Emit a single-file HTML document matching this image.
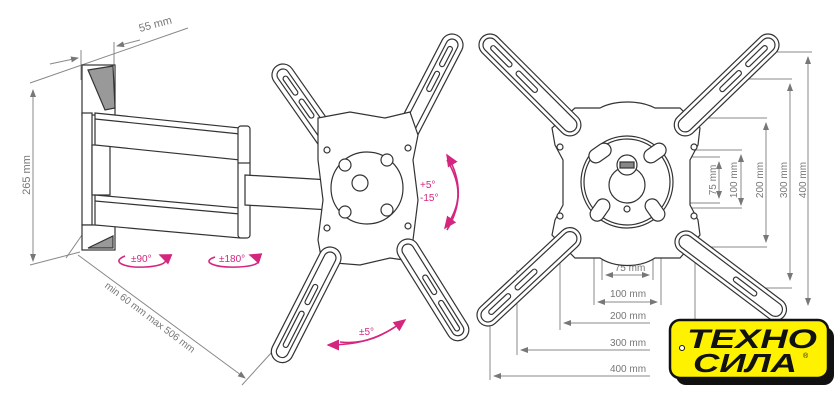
<!DOCTYPE html>
<html><head><meta charset="utf-8"><style>
html,body{margin:0;padding:0;background:#fff;}
svg{display:block;}
text{font-family:"Liberation Sans",sans-serif;}
</style></head><body>
<svg width="840" height="409" viewBox="0 0 840 409" xmlns="http://www.w3.org/2000/svg">
<defs>
<marker id="ag" markerWidth="8" markerHeight="8" refX="7" refY="4" orient="auto"><path d="M0,1 L8,4 L0,7 z" fill="#777"/></marker>
<marker id="ap" markerWidth="8" markerHeight="8" refX="7" refY="4" orient="auto"><path d="M0,0.5 L8,4 L0,7.5 z" fill="#d4267f"/></marker>
</defs>

<!-- ===== LEFT FIGURE ===== -->
<g stroke="#888" stroke-width="1" fill="none">
<line x1="30" y1="83" x2="188" y2="28"/>
<line x1="81" y1="50" x2="81" y2="80"/>
<line x1="114" y1="42" x2="114" y2="80"/>
<line x1="50" y1="64" x2="78" y2="58" marker-end="url(#ag)"/>
<line x1="140" y1="40" x2="117" y2="46" marker-end="url(#ag)"/>
<line x1="33" y1="100" x2="33" y2="90" marker-end="url(#ag)"/>
<line x1="33" y1="240" x2="33" y2="261" marker-end="url(#ag)"/>
<line x1="33" y1="100" x2="33" y2="240"/>
<line x1="30" y1="265" x2="80" y2="252"/>
<line x1="66" y1="258" x2="82" y2="235"/>
<line x1="78" y1="255" x2="245" y2="378" marker-end="url(#ag)"/>
<line x1="242" y1="385" x2="272" y2="352"/>
</g>
<text x="140" y="32" font-size="11" fill="#777" transform="rotate(-15 140 32)">55 mm</text>
<text x="30" y="175" font-size="11" fill="#777" transform="rotate(-90 30 175)" text-anchor="middle">265 mm</text>
<text x="148" y="320" font-size="10" fill="#777" transform="rotate(37 148 320)" text-anchor="middle">min 60 mm max 506 mm</text>

<!-- wall plate -->
<g stroke="#333" stroke-width="1.2" fill="#fff">
<rect x="82" y="65" width="33" height="50"/>
<polygon points="88,70 113,66 115,108 105,110" fill="#999"/>
<rect x="82" y="113" width="10" height="112"/>
<rect x="82" y="225" width="33" height="25"/>
<polygon points="88,248 113,236 113,248" fill="#999"/>
<rect x="92" y="145" width="18" height="50"/>
<polygon points="95,113 240,128 240,160 95,145"/>
<line x1="95" y1="119" x2="240" y2="134"/>
<polygon points="95,195 240,208 240,238 95,225"/>
<line x1="95" y1="201" x2="240" y2="214"/>
<rect x="238" y="126" width="12" height="112" rx="3"/>
<line x1="238" y1="163" x2="250" y2="163"/>
<polygon points="245,175 330,180 330,210 245,205"/>
</g>

<!-- left mount plate -->
<g stroke="#333" stroke-width="1.2" fill="#fff">
<g transform="translate(283,75) rotate(55)"><rect x="-11" y="-11" width="101" height="22" rx="11"/><rect x="-6" y="-6" width="91" height="12" rx="6" fill="none"/><rect x="2" y="-2.5" width="22" height="5" rx="2.5" fill="none"/><rect x="30" y="-2.5" width="22" height="5" rx="2.5" fill="none"/></g>
<g transform="translate(452,45) rotate(117.4)"><rect x="-11" y="-11" width="118" height="22" rx="11"/><rect x="-6" y="-6" width="108" height="12" rx="6" fill="none"/><rect x="2" y="-2.5" width="22" height="5" rx="2.5" fill="none"/><rect x="30" y="-2.5" width="22" height="5" rx="2.5" fill="none"/></g>
<path d="M318,118 L350,112 L385,118 L410,112 L418,135 L413,160 L418,200 L413,240 L418,262 L390,258 L360,265 L322,262 L318,240 L323,200 L318,160 Z"/>
<circle cx="367" cy="188" r="36"/>
<circle cx="360" cy="183" r="8"/>
<circle cx="345" cy="165" r="6"/><circle cx="387" cy="160" r="6"/>
<circle cx="345" cy="212" r="6"/><circle cx="387" cy="210" r="6"/>
<circle cx="327" cy="150" r="3"/><circle cx="408" cy="148" r="3"/>
<circle cx="327" cy="228" r="3"/><circle cx="408" cy="226" r="3"/>
<g transform="translate(330,258) rotate(117)"><rect x="-11" y="-11" width="127" height="22" rx="11"/><rect x="-6" y="-6" width="117" height="12" rx="6" fill="none"/><rect x="30" y="-2.5" width="22" height="5" rx="2.5" fill="none"/><rect x="60" y="-2.5" width="40" height="5" rx="2.5" fill="none"/></g>
<g transform="translate(408,250) rotate(58)"><rect x="-11" y="-11" width="116" height="22" rx="11"/><rect x="-6" y="-6" width="106" height="12" rx="6" fill="none"/><rect x="30" y="-2.5" width="22" height="5" rx="2.5" fill="none"/><rect x="60" y="-2.5" width="35" height="5" rx="2.5" fill="none"/></g>
</g>

<!-- pink rotation arrows -->
<g stroke="#d4267f" stroke-width="1.6" fill="none">
<path d="M125,256 C110,262 125,268 145,267 C165,266 172,260 160,255" marker-end="url(#ap)"/>
<path d="M215,257 C200,262 215,268 238,267 C260,266 265,260 250,255" marker-end="url(#ap)"/>
<path d="M447,230 C462,205 462,180 447,155" marker-end="url(#ap)"/>
<path d="M447,160 C462,185 462,205 445,228" marker-end="url(#ap)"/>
<path d="M340,342 C365,345 385,335 405,320" marker-end="url(#ap)"/>
<path d="M395,327 C375,340 355,345 328,345" marker-end="url(#ap)"/>
</g>
<g fill="#d4267f" font-size="10">
<text x="131" y="262">±90°</text>
<text x="219" y="262">±180°</text>
<text x="420" y="188">+5°</text>
<text x="420" y="201">-15°</text>
<text x="359" y="335">±5°</text>
</g>

<!-- ===== RIGHT FIGURE ===== -->
<g stroke="#888" stroke-width="1" fill="none">
<line x1="770" y1="52" x2="812" y2="52"/>
<line x1="740" y1="79" x2="792" y2="79"/>
<line x1="705" y1="118" x2="767" y2="118"/>
<line x1="660" y1="150" x2="742" y2="150"/>
<line x1="660" y1="157" x2="720" y2="157"/>
<line x1="660" y1="208" x2="742" y2="208"/>
<line x1="660" y1="203" x2="720" y2="203"/>
<line x1="705" y1="247" x2="767" y2="247"/>
<line x1="740" y1="288" x2="792" y2="288"/>
<line x1="808" y1="180" x2="808" y2="57" marker-end="url(#ag)"/><line x1="808" y1="180" x2="808" y2="305" marker-end="url(#ag)"/>
<line x1="790" y1="180" x2="790" y2="84" marker-end="url(#ag)"/><line x1="790" y1="180" x2="790" y2="280" marker-end="url(#ag)"/>
<line x1="766" y1="180" x2="766" y2="123" marker-end="url(#ag)"/><line x1="766" y1="180" x2="766" y2="242" marker-end="url(#ag)"/>
<line x1="741" y1="180" x2="741" y2="155" marker-end="url(#ag)"/><line x1="741" y1="180" x2="741" y2="205" marker-end="url(#ag)"/>
<line x1="719" y1="180" x2="719" y2="162" marker-end="url(#ag)"/><line x1="719" y1="180" x2="719" y2="198" marker-end="url(#ag)"/>
<line x1="602" y1="210" x2="602" y2="280"/><line x1="653" y1="210" x2="653" y2="280"/>
<line x1="594" y1="215" x2="594" y2="305"/><line x1="661" y1="215" x2="661" y2="305"/>
<line x1="560" y1="240" x2="560" y2="330"/><line x1="695" y1="240" x2="695" y2="320"/>
<line x1="517" y1="270" x2="517" y2="355"/>
<line x1="490" y1="310" x2="490" y2="380"/>
<line x1="627" y1="275" x2="606" y2="275" marker-end="url(#ag)"/><line x1="627" y1="275" x2="649" y2="275" marker-end="url(#ag)"/>
<line x1="627" y1="302" x2="598" y2="302" marker-end="url(#ag)"/><line x1="627" y1="302" x2="657" y2="302" marker-end="url(#ag)"/>
<line x1="650" y1="323" x2="564" y2="323" marker-end="url(#ag)"/>
<line x1="650" y1="350" x2="521" y2="350" marker-end="url(#ag)"/>
<line x1="650" y1="376" x2="494" y2="376" marker-end="url(#ag)"/>
</g>
<g fill="#777" font-size="10" text-anchor="middle">
<text x="630" y="271">75 mm</text>
<text x="628" y="297">100 mm</text>
<text x="628" y="319">200 mm</text>
<text x="628" y="346">300 mm</text>
<text x="628" y="372">400 mm</text>
<text transform="translate(716,180) rotate(-90)">75 mm</text>
<text transform="translate(737,180) rotate(-90)">100 mm</text>
<text transform="translate(763,180) rotate(-90)">200 mm</text>
<text transform="translate(787,180) rotate(-90)">300 mm</text>
<text transform="translate(806,180) rotate(-90)">400 mm</text>
</g>

<g stroke="#333" stroke-width="1.2" fill="#fff">
<path d="M575,108 L600,108 C615,100 640,100 655,108 L680,108 L700,128 L698,145 L690,160 L690,205 L698,220 L700,235 L680,258 L655,258 C640,268 615,268 600,258 L575,258 L552,235 L555,220 L563,205 L563,160 L555,145 L552,128 Z"/>
<circle cx="627" cy="182" r="46"/>
<circle cx="627" cy="182" r="43" fill="none"/>
<circle cx="627" cy="185" r="18" fill="none"/>
<circle cx="627" cy="165" r="10"/>
<rect x="620" y="162" width="14" height="6" fill="#888"/>
<circle cx="627" cy="209" r="3"/>
<g transform="translate(600,153) rotate(-35)"><rect x="-12" y="-7" width="24" height="14" rx="7"/></g>
<g transform="translate(655,153) rotate(-35)"><rect x="-12" y="-7" width="24" height="14" rx="7"/></g>
<g transform="translate(600,210) rotate(-55)"><rect x="-12" y="-7" width="24" height="14" rx="7"/></g>
<g transform="translate(655,210) rotate(55)"><rect x="-12" y="-7" width="24" height="14" rx="7"/></g>
<circle cx="560" cy="147" r="3"/><circle cx="694" cy="147" r="3"/>
<circle cx="560" cy="216" r="3"/><circle cx="694" cy="216" r="3"/>
<g transform="translate(490,45) rotate(45)"><rect x="-11" y="-11" width="135" height="22" rx="11"/><rect x="-7" y="-7" width="127" height="14" rx="7" fill="none"/><rect x="2" y="-2.5" width="28" height="5" rx="2.5" fill="none"/><rect x="38" y="-2.5" width="28" height="5" rx="2.5" fill="none"/></g>
<g transform="translate(768,45) rotate(136)"><rect x="-11" y="-11" width="137" height="22" rx="11"/><rect x="-7" y="-7" width="129" height="14" rx="7" fill="none"/><rect x="2" y="-2.5" width="28" height="5" rx="2.5" fill="none"/><rect x="38" y="-2.5" width="28" height="5" rx="2.5" fill="none"/></g>
<g transform="translate(488,315) rotate(-43)"><rect x="-11" y="-11" width="134" height="22" rx="11"/><rect x="-7" y="-7" width="126" height="14" rx="7" fill="none"/><rect x="2" y="-2.5" width="28" height="5" rx="2.5" fill="none"/><rect x="38" y="-2.5" width="28" height="5" rx="2.5" fill="none"/></g>
<g transform="translate(686,242) rotate(37)"><rect x="-11" y="-11" width="134" height="22" rx="11"/><rect x="-7" y="-7" width="126" height="14" rx="7" fill="none"/><rect x="60" y="-2.5" width="28" height="5" rx="2.5" fill="none"/></g>
</g>

<!-- logo -->
<rect x="676" y="327" width="158" height="58" rx="10" fill="#111"/>
<rect x="670" y="320" width="158" height="58" rx="10" fill="#fff200" stroke="#111" stroke-width="2.5"/>
<circle cx="682" cy="348" r="2.5" fill="#fff" stroke="#111"/>
<text x="752" y="348" font-size="27" font-weight="bold" font-style="italic" text-anchor="middle" fill="#111" textLength="130" lengthAdjust="spacingAndGlyphs">ТЕХНО</text>
<text x="745" y="372" font-size="26" font-weight="bold" font-style="italic" text-anchor="middle" fill="#111" textLength="104" lengthAdjust="spacingAndGlyphs">СИЛА</text>
<text x="803" y="358" font-size="7" fill="#111">®</text>
</svg>
</body></html>
